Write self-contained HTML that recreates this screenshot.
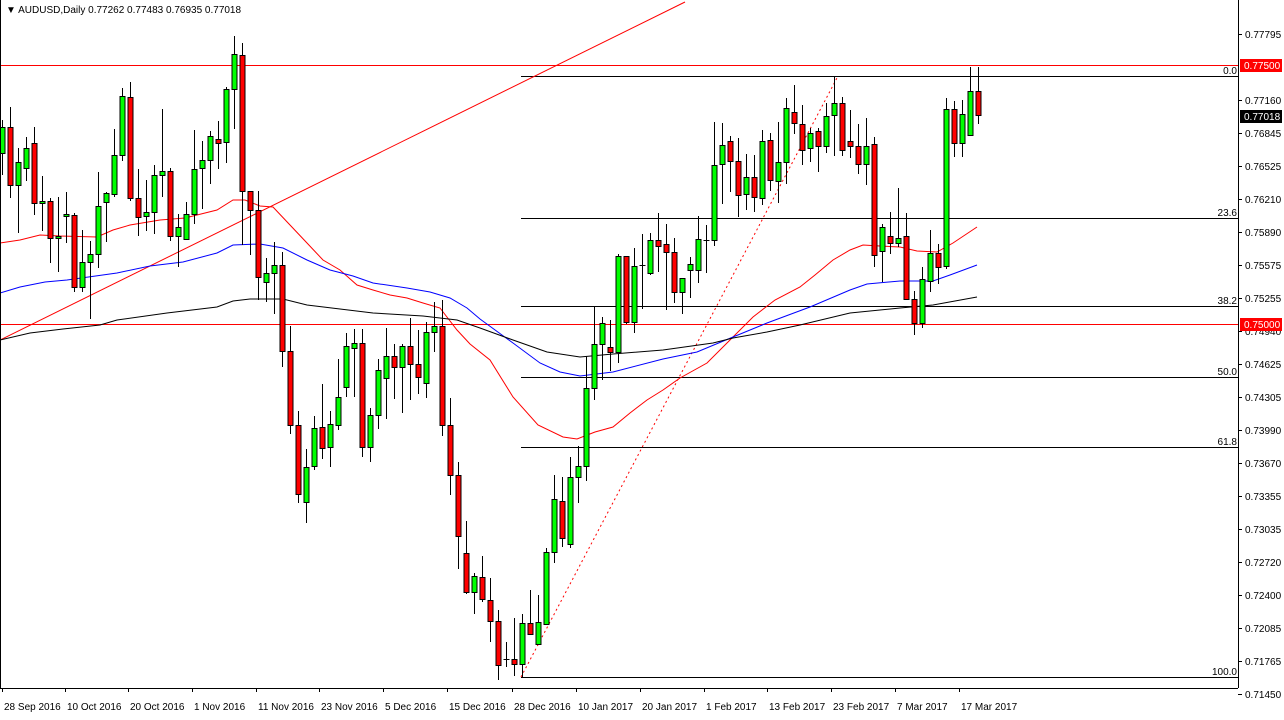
<!DOCTYPE html>
<html><head><meta charset="utf-8"><style>
html,body{margin:0;padding:0;background:#fff;}
svg{display:block;font-family:"Liberation Sans",sans-serif;}
</style></head><body>
<svg id="c" width="1284" height="720" viewBox="0 0 1284 720" xmlns="http://www.w3.org/2000/svg">
<rect x="0" y="0" width="1284" height="720" fill="#fff"/>
<g id="lines"></g>
<g id="candles"></g>
<g id="axis"></g>
<text x="6" y="13" font-size="10" fill="#000">▼ AUDUSD,Daily  0.77262  0.77483  0.76935  0.77018</text>
</svg>
<script>
var NS="http://www.w3.org/2000/svg";
function el(p,t,a,txt){var e=document.createElementNS(NS,t);for(var k in a)e.setAttribute(k,a[k]);if(txt!==undefined)e.textContent=txt;document.getElementById(p).appendChild(e);return e;}
function pl(p,pts,col,extra){var a={points:pts.map(function(q){return q.join(',')}).join(' '),fill:'none',stroke:col,'stroke-width':1};for(var k in extra)a[k]=extra[k];el(p,'polyline',a);}
// horizontal red lines
el('lines','line',{x1:0,y1:65.5,x2:1238,y2:65.5,stroke:'#f00','stroke-width':1});
el('lines','line',{x1:0,y1:324.5,x2:1238,y2:324.5,stroke:'#f00','stroke-width':1});
// fib
var fib=[[76,'0.0'],[218,'23.6'],[306,'38.2'],[377,'50.0'],[447,'61.8'],[677,'100.0']];
fib.forEach(function(f){el('lines','line',{x1:521,y1:f[0]+.5,x2:1238,y2:f[0]+.5,stroke:'#000','stroke-width':1});el('lines','text',{x:1237,y:f[0]-2,'font-size':10,'text-anchor':'end',fill:'#000'},f[1]);});
el('lines','line',{x1:521,y1:677,x2:838,y2:76,stroke:'#f00','stroke-width':1,'stroke-dasharray':'2,3'});
// trendline
el('lines','line',{x1:0,y1:340,x2:685,y2:2,stroke:'#f00','stroke-width':1});
// MAs
pl('lines',[[0,243],[20,240],[40,235],[60,236],[97,237],[113,230],[130,225],[160,220],[185,218],[217,210],[233,200],[245,200],[260,206],[273,207],[290,225],[307,243],[323,260],[340,270],[357,285],[373,290],[390,295],[407,298],[423,303],[440,308],[457,330],[470,344],[490,360],[513,397],[538,425],[563,437],[577,439],[595,432],[613,427],[630,413],[647,400],[663,390],[680,378],[707,363],[730,340],[753,317],[775,300],[800,287],[815,275],[833,260],[850,250],[863,245],[880,246],[900,247],[917,251],[937,252],[953,243],[977,227]],'#f00');
pl('lines',[[0,293],[20,287],[45,282],[67,280],[117,273],[150,266],[183,262],[217,253],[233,245],[260,244],[283,248],[307,260],[330,270],[353,276],[373,283],[407,288],[430,292],[450,298],[467,308],[480,319],[513,343],[540,363],[560,372],[580,376],[613,372],[663,359],[697,352],[733,337],[767,323],[810,307],[850,290],[867,284],[900,281],[933,281],[950,275],[977,265]],'#00f');
pl('lines',[[0,340],[30,333],[63,329],[100,325],[117,320],[167,313],[217,307],[233,301],[250,299],[283,299],[307,305],[340,309],[373,313],[423,316],[457,320],[480,328],[513,340],[547,352],[580,357],[613,354],[663,350],[713,343],[733,338],[767,332],[800,325],[850,313],[900,308],[933,305],[977,297]],'#000');
// candles: [top,bot,high,low,color]
var C=[
[127,153,120,175,'g'],[127,185,107,198,'r'],[162,185,148,233,'g'],[148,168,137,181,'g'],[143,203,127,215,'r'],
[201,203,176,231,'g'],[201,238,198,263,'r'],[236,238,197,272,'g'],[214,216,192,243,'g'],[215,287,213,292,'r'],
[262,287,230,292,'g'],[254,262,241,319,'g'],[206,254,172,268,'g'],[193,202,192,242,'g'],[155,194,129,197,'g'],
[96,155,88,161,'g'],[97,198,82,201,'r'],[198,217,169,236,'r'],[212,216,180,231,'g'],[175,212,165,234,'g'],
[171,175,109,197,'g'],[171,236,168,241,'r'],[227,236,214,267,'g'],[214,239,202,239,'g'],[169,214,130,224,'g'],
[160,168,141,209,'g'],[136,160,131,184,'g'],[139,143,121,169,'r'],[89,142,87,163,'g'],[54,89,36,129,'g'],
[55,191,43,245,'r'],[191,210,191,255,'r'],[210,277,191,300,'r'],[273,282,258,302,'g'],[265,273,242,314,'g'],
[265,351,252,367,'r'],[351,425,326,434,'r'],[425,494,411,503,'r'],[467,502,449,523,'g'],[428,466,416,470,'g'],
[427,448,384,459,'r'],[424,447,411,467,'g'],[397,425,359,430,'g'],[346,387,333,397,'g'],[343,348,329,397,'g'],
[343,447,329,457,'r'],[415,447,408,462,'g'],[370,415,359,429,'g'],[356,378,328,419,'g'],[356,367,344,399,'r'],
[346,367,344,413,'g'],[346,364,318,400,'r'],[364,377,330,394,'r'],[332,383,322,398,'g'],[326,332,302,352,'g'],
[326,425,300,436,'r'],[425,475,398,495,'r'],[475,536,462,569,'r'],[553,592,521,594,'r'],[576,592,573,614,'g'],
[577,599,556,602,'r'],[600,621,578,642,'r'],[621,665,610,680,'r'],[659,659,642,667,'d'],[659,664,618,676,'r'],
[623,664,614,677,'g'],[623,634,590,634,'r'],[622,644,595,644,'g'],[552,624,548,624,'g'],[499,552,475,563,'g'],
[501,538,477,547,'r'],[477,544,457,548,'g'],[466,477,446,503,'g'],[388,466,356,481,'g'],[344,388,307,400,'g'],
[323,344,317,380,'g'],[347,352,320,371,'r'],[256,352,254,363,'g'],[256,322,256,324,'r'],[266,322,248,333,'g'],
[265,265,234,309,'d'],[240,273,233,275,'g'],[240,246,213,272,'r'],[244,252,224,310,'r'],[252,292,238,303,'r'],
[278,292,278,314,'g'],[264,270,257,298,'g'],[239,270,216,283,'g'],[240,240,225,273,'d'],[165,240,122,246,'g'],
[145,164,123,204,'g'],[141,161,136,192,'r'],[161,195,138,217,'r'],[177,194,154,210,'g'],[177,197,155,212,'r'],
[141,198,130,205,'g'],[140,180,133,191,'r'],[162,181,122,203,'g'],[108,162,98,184,'g'],[112,123,85,134,'r'],
[124,150,105,165,'r'],[133,148,128,162,'g'],[131,146,128,172,'r'],[116,146,103,153,'g'],[103,115,76,156,'g'],
[103,150,97,156,'r'],[141,146,110,158,'r'],[146,164,124,174,'r'],[146,164,118,185,'g'],[144,255,137,267,'r'],
[227,251,224,282,'g'],[236,243,212,254,'r'],[238,243,188,247,'g'],[236,299,213,300,'r'],[299,323,291,335,'r'],
[279,323,267,328,'g'],[253,281,230,292,'g'],[253,267,244,284,'r'],[109,266,98,269,'g'],[109,143,101,157,'r'],
[114,143,100,157,'g'],[91,135,67,135,'g'],[91,115,67,124,'r']];
C.forEach(function(c,i){
 var x=Math.round(1.5+8*i)+0.5;
 el('candles','line',{x1:x,y1:c[2],x2:x,y2:c[3],stroke:'#000','stroke-width':1});
 if(c[4]=='d'){el('candles','line',{x1:x-3,y1:c[0]+.5,x2:x+3,y2:c[0]+.5,stroke:'#000','stroke-width':1});}
 else el('candles','rect',{x:x-2.5,y:c[0]+.5,width:5,height:Math.max(1,c[1]-c[0]),fill:c[4]=='g'?'#00ff00':'#ff0000',stroke:'#000','stroke-width':1});
});
// axis
el('axis','line',{x1:1238.5,y1:0,x2:1238.5,y2:688,stroke:'#000','stroke-width':1});
el('axis','line',{x1:0,y1:688.5,x2:1238,y2:688.5,stroke:'#000','stroke-width':1});
el('axis','line',{x1:0.5,y1:0,x2:0.5,y2:688,stroke:'#000','stroke-width':1});
var L=[['0.77795',34],['0.77160',100],['0.76845',133],['0.76525',166],['0.76210',199],['0.75890',232],['0.75575',265],['0.75255',298],['0.74940',331],['0.74625',364],['0.74305',397],['0.73990',430],['0.73670',463],['0.73355',496],['0.73035',529],['0.72720',562],['0.72400',595],['0.72085',628],['0.71765',661],['0.71450',694]];
L.forEach(function(l){el('axis','line',{x1:1238,y1:l[1]+.5,x2:1242,y2:l[1]+.5,stroke:'#000'});el('axis','text',{x:1245,y:l[1]+4,'font-size':10,fill:'#000'},l[0]);});
function box(y,t,bg){el('axis','rect',{x:1240,y:y-6,width:42,height:13,fill:bg});el('axis','text',{x:1244,y:y+4,'font-size':10,fill:'#fff'},t);}
box(65,'0.77500','#f00');box(116,'0.77018','#000');box(324,'0.75000','#f00');
var D=[['28 Sep 2016',2],['10 Oct 2016',65],['20 Oct 2016',128],['1 Nov 2016',192],['11 Nov 2016',256],['23 Nov 2016',319],['5 Dec 2016',383],['15 Dec 2016',447],['28 Dec 2016',512],['10 Jan 2017',576],['20 Jan 2017',640],['1 Feb 2017',704],['13 Feb 2017',767],['23 Feb 2017',831],['7 Mar 2017',895],['17 Mar 2017',959]];
D.forEach(function(d){el('axis','line',{x1:d[1]+.5,y1:688,x2:d[1]+.5,y2:692,stroke:'#000'});el('axis','text',{x:d[1]+2,y:710,'font-size':10,fill:'#000'},d[0]);});
</script>
</body></html>
